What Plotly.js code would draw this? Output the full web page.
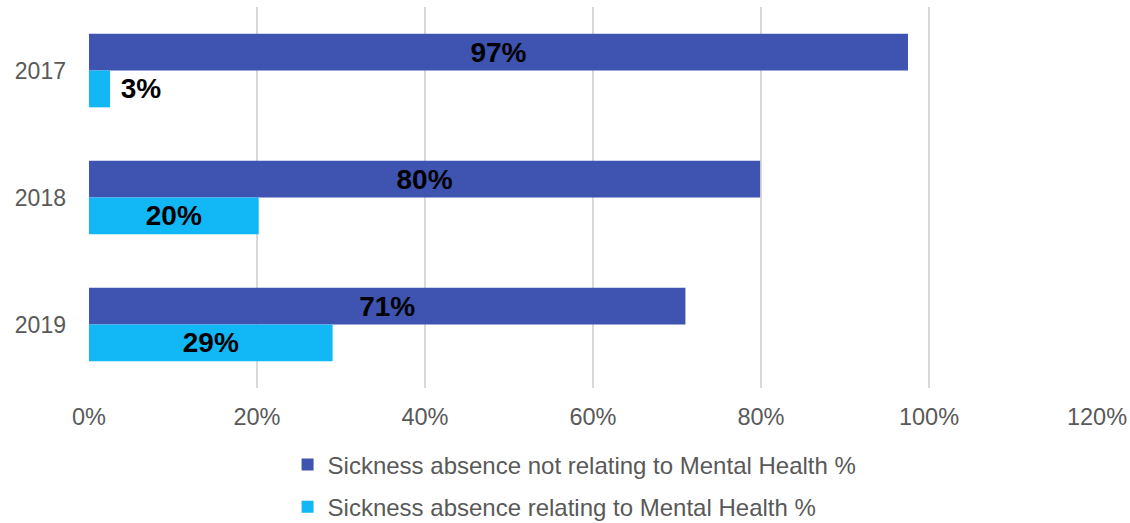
<!DOCTYPE html>
<html>
<head>
<meta charset="utf-8">
<script src="https://cdn.plot.ly/plotly-3.0.1.min.js"></script>
<style>html,body{margin:0;padding:0;background:#fff;}#chart{width:1130px;height:523px;}</style>
</head>
<body>
<div id="chart"></div>
<script>
const years = ['2017', '2018', '2019'];
const notMentalHealth = [97.5, 79.9, 71.0];
const mentalHealth = [2.5, 20.2, 29.0];
const notMentalLabels = ['97%', '80%', '71%'];
const mentalLabels = ['\u00a03%', '20%', '29%'];
const seriesNames = ['Sickness absence not relating to Mental Health %', 'Sickness absence relating to Mental Health %'];
const xTicks = [0, 20, 40, 60, 80, 100, 120];
const xTickLabels = ['0%', '20%', '40%', '60%', '80%', '100%', '120%'];

const labelFont = {family: 'Liberation Sans, Arial, sans-serif', size: 28, color: '#000000', weight: 'bold'};

const traces = [
  {
    type: 'bar', orientation: 'h', name: seriesNames[0],
    y: years, x: notMentalHealth, text: notMentalLabels,
    textposition: 'inside', insidetextanchor: 'middle',
    insidetextfont: labelFont, outsidetextfont: labelFont, textfont: labelFont,
    constraintext: 'none', cliponaxis: false,
    marker: {color: '#3F53B1'}, hoverinfo: 'skip', legendgroup: 'a'
  },
  {
    type: 'bar', orientation: 'h', name: seriesNames[1],
    y: years, x: mentalHealth, text: mentalLabels,
    textposition: mentalHealth.map(v => v < 10 ? 'outside' : 'inside'),
    insidetextanchor: 'middle',
    insidetextfont: labelFont, outsidetextfont: labelFont, textfont: labelFont,
    constraintext: 'none', cliponaxis: false,
    marker: {color: '#12B7F6'}, hoverinfo: 'skip', legendgroup: 'b'
  }
];

const layout = {
  width: 1130, height: 523,
  margin: {l: 89, r: 33, t: 7, b: 135},
  paper_bgcolor: '#ffffff', plot_bgcolor: '#ffffff',
  font: {family: 'Liberation Sans, Arial, sans-serif', size: 23.5, color: '#595959'},
  barmode: 'group', bargap: 0.42, bargroupgap: 0,
  showlegend: true,
  xaxis: {
    range: [0, 120], tickmode: 'array', tickvals: xTicks, ticktext: xTickLabels,
    showgrid: true, gridcolor: '#d9d9d9', gridwidth: 1.5,
    zeroline: false, showline: false, ticks: '', ticklabelstandoff: 12,
    tickfont: {size: 23.5, color: '#595959'}, fixedrange: true
  },
  yaxis: {
    type: 'category', categoryorder: 'array', categoryarray: years,
    autorange: 'reversed', showgrid: false, zeroline: false, showline: false,
    ticks: '', ticklabelstandoff: 22,
    tickfont: {size: 23, color: '#595959'}, fixedrange: true
  },
  legend: {
    orientation: 'v', x: 0.197, xanchor: 'left',
    yref: 'container', y: 0.154, yanchor: 'top',
    font: {size: 24, color: '#595959'}, tracegroupgap: 8,
    traceorder: 'grouped', bgcolor: 'rgba(0,0,0,0)'
  }
};

Plotly.newPlot('chart', traces, layout, {displayModeBar: false, staticPlot: true});
</script>
</body>
</html>
